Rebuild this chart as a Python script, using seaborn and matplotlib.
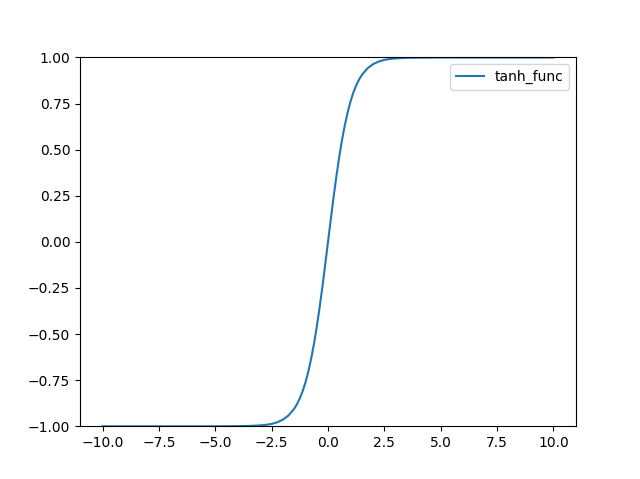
import matplotlib
matplotlib.use("Agg")
import matplotlib.pyplot as plt
import seaborn as sns

# points
x_vals = [-10.0, -6.0, -5.0, -4.0, -3.5, -3.0, -2.75, -2.5, -2.25, -2.0, -1.75, -1.5,
          -1.375, -1.25, -1.125, -1.0, -0.875, -0.75, -0.625, -0.5, -0.375, -0.25, -0.125,
          0.0, 0.125, 0.25, 0.375, 0.5, 0.625, 0.75, 0.875, 1.0, 1.125, 1.25, 1.375, 1.5,
          1.75, 2.0, 2.25, 2.5, 2.75, 3.0, 3.5, 4.0, 5.0, 6.0, 10.0]
y_vals = [-1.0, -1.0, -1.0, -0.999, -0.998, -0.995, -0.992, -0.987, -0.978, -0.964, -0.941, -0.905,
          -0.880, -0.848, -0.810, -0.762, -0.704, -0.635, -0.555, -0.462, -0.358, -0.245, -0.124,
          0.0, 0.124, 0.245, 0.358, 0.462, 0.555, 0.635, 0.704, 0.762, 0.810, 0.848, 0.880, 0.905,
          0.941, 0.964, 0.978, 0.987, 0.992, 0.995, 0.998, 0.999, 1.0, 1.0, 1.0]
series_name = "tanh_func"

plt.rcParams.update(matplotlib.rcParamsDefault)
fig, ax = plt.subplots(figsize=(6.4, 4.79), dpi=100)
sns.lineplot(x=x_vals, y=y_vals, ax=ax, label=series_name, color="#1f77b4", linewidth=1.5)
ax.set_ylim(-1.0, 1.0)
ax.legend(loc="upper right")
fig.savefig("out.png", dpi=100)
